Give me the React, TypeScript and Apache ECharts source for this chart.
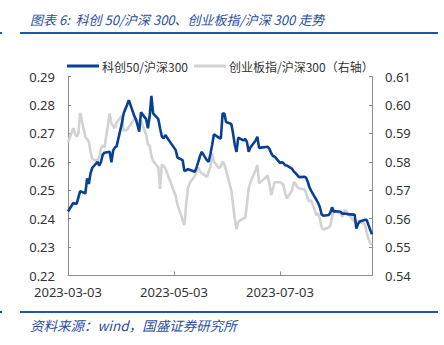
import React, { useEffect, useRef } from "react";
import * as echarts from "echarts";

// Trading days (2023), by month
const tradingDays: Record<string, number[]> = {
  "03": [3, 6, 7, 8, 9, 10, 13, 14, 15, 16, 17, 20, 21, 22, 23, 24, 27, 28, 29, 30, 31],
  "04": [3, 4, 6, 7, 10, 11, 12, 13, 14, 17, 18, 19, 20, 21, 24, 25, 26, 27, 28],
  "05": [4, 5, 8, 9, 10, 11, 12, 15, 16, 17, 18, 19, 22, 23, 24, 25, 26, 29, 30, 31],
  "06": [1, 2, 5, 6, 7, 8, 9, 12, 13, 14, 15, 16, 19, 20, 21, 26, 27, 28, 29, 30],
  "07": [3, 4, 5, 6, 7, 10, 11, 12, 13, 14, 17, 18, 19, 20, 21, 24, 25, 26, 27, 28, 31],
  "08": [1, 2, 3, 4, 7, 8, 9, 10, 11, 14, 15, 16, 17, 18, 21, 22, 23, 24, 25],
};

// 科创50/沪深300 (left axis)
const kechuang = [
  0.2425, 0.2455, 0.2453, 0.2453, 0.2475, 0.2497, 0.2489, 0.2542, 0.2522, 0.2560, 0.2579, 0.2600, 0.2586, 0.2600, 0.2625, 0.2632, 0.2635, 0.2598, 0.2640, 0.2650, 0.2655,
  0.2735, 0.2770, 0.2800, 0.2817, 0.2764, 0.2750, 0.2730, 0.2706, 0.2774, 0.2750, 0.2718, 0.2760, 0.2832, 0.2770, 0.2750, 0.2718, 0.2690, 0.2682, 0.2694,
  0.2641, 0.2615, 0.2606, 0.2567, 0.2570, 0.2574, 0.2572, 0.2565, 0.2580, 0.2600, 0.2620, 0.2635, 0.2605, 0.2600, 0.2628, 0.2660, 0.2697, 0.2684, 0.2682, 0.2770,
  0.2770, 0.2740, 0.2733, 0.2700, 0.2660, 0.2635, 0.2685, 0.2675, 0.2680, 0.2670, 0.2635, 0.2650, 0.2675, 0.2688, 0.2649, 0.2653, 0.2645, 0.2630, 0.2620, 0.2618,
  0.2596, 0.2598, 0.2596, 0.2588, 0.2587, 0.2575, 0.2566, 0.2560, 0.2553, 0.2546, 0.2547, 0.2545, 0.2530, 0.2510, 0.2498, 0.2466, 0.2455, 0.2440, 0.2415, 0.2410, 0.2413,
  0.2420, 0.2440, 0.2424, 0.2426, 0.2424, 0.2417, 0.2418, 0.2417, 0.2416, 0.2414, 0.2414, 0.2365, 0.2382, 0.2390, 0.2396, 0.2395, 0.2377, 0.2360, 0.2345,
];

// 创业板指/沪深300 (right axis)
const chuangye = [
  0.5868, 0.5918, 0.5900, 0.5888, 0.5900, 0.5972, 0.5888, 0.5880, 0.5870, 0.5835, 0.5810, 0.5803, 0.5820, 0.5847, 0.5858, 0.5850, 0.5970, 0.5935, 0.5925, 0.5918, 0.5938,
  0.5962, 0.5910, 0.5912, 0.5922, 0.5950, 0.5950, 0.5946, 0.5938, 0.5945, 0.5895, 0.5860, 0.5858, 0.5820, 0.5803, 0.5780, 0.5705, 0.5790, 0.5785, 0.5777,
  0.5680, 0.5650, 0.5595, 0.5577, 0.5648, 0.5706, 0.5725, 0.5750, 0.5765, 0.5780, 0.5765, 0.5759, 0.5747, 0.5765, 0.5782, 0.5829, 0.5800, 0.5777, 0.5785, 0.5800,
  0.5792, 0.5770, 0.5700, 0.5650, 0.5600, 0.5563, 0.5589, 0.5601, 0.5604, 0.5650, 0.5706, 0.5728, 0.5770, 0.5788, 0.5724, 0.5752, 0.5720, 0.5683, 0.5706, 0.5728,
  0.5728, 0.5725, 0.5718, 0.5690, 0.5671, 0.5700, 0.5728, 0.5722, 0.5712, 0.5706, 0.5703, 0.5693, 0.5670, 0.5660, 0.5665, 0.5612, 0.5618, 0.5600, 0.5570, 0.5562, 0.5569,
  0.5575, 0.5606, 0.5630, 0.5626, 0.5617, 0.5606, 0.5630, 0.5628, 0.5620, 0.5595, 0.5592, 0.5589, 0.5592, 0.5590, 0.5580, 0.5550, 0.5528, 0.5513, 0.5510,
];

const seriesNames = ["科创50/沪深300", "创业板指/沪深300（右轴）"];
const titleText = "图表 6:  科创 50/沪深 300、创业板指/沪深 300 走势";
const sourceText = "资料来源：wind，国盛证券研究所";
const startDate = "2023-03-03";
const endDate = "2023-08-25";
const labelStepDays = 61;

const DAY = 86400000;
const dates: string[] = [];
Object.keys(tradingDays).forEach((m) => {
  tradingDays[m].forEach((d) => dates.push(`2023-${m}-${String(d).padStart(2, "0")}`));
});
const t0 = Date.parse(startDate);
const toOffset = (d: string) => Math.round((Date.parse(d) - t0) / DAY);
const fmtOffset = (v: number) => {
  const dt = new Date(t0 + v * DAY);
  const y = dt.getUTCFullYear();
  const mo = String(dt.getUTCMonth() + 1).padStart(2, "0");
  const da = String(dt.getUTCDate()).padStart(2, "0");
  return `${y}-${mo}-${da}`;
};

export default function App() {
  const ref = useRef<HTMLDivElement>(null);
  useEffect(() => {
    document.body.style.margin = "0";
    if (!ref.current) return;
    const chart = echarts.init(ref.current, null, { renderer: "svg" });
    const blue = "#0A3F96";
    const gray = "#D2D2D2";
    const ruleColor = "#1F57A8";
    const textBlue = "#2A4E9E";
    const axisColor = "#8C8C8C";
    const labelColor = "#333333";
    chart.setOption({
      animation: false,
      backgroundColor: "#ffffff",
      grid: { left: 68, right: 72, top: 76.5, bottom: 69.5, containLabel: false },
      legend: {
        data: seriesNames,
        left: 62,
        top: 55,
        icon: "rect",
        itemWidth: 32,
        itemHeight: 3,
        itemGap: 6,
        textStyle: { fontFamily: "Noto Sans CJK SC", fontSize: 12, color: labelColor, padding: [0, 0, 0, -2] },
      },
      graphic: [
        {
          type: "text",
          left: 30,
          top: 13,
          style: {
            text: titleText,
            fontFamily: "Noto Sans CJK SC",
            fontSize: 13,
            fontStyle: "italic",
            fill: textBlue,
          },
        },
        { type: "rect", shape: { x: 20, y: 32, width: 418, height: 2 }, style: { fill: ruleColor } },
        { type: "rect", shape: { x: 0, y: 32, width: 2, height: 2 }, style: { fill: ruleColor } },
        { type: "rect", shape: { x: 20, y: 311, width: 418, height: 2 }, style: { fill: ruleColor } },
        { type: "rect", shape: { x: 0, y: 311, width: 2, height: 2 }, style: { fill: ruleColor } },
        {
          type: "text",
          left: 30,
          top: 318,
          style: {
            text: sourceText,
            fontFamily: "Noto Sans CJK SC",
            fontSize: 13.5,
            fontStyle: "italic",
            fill: textBlue,
          },
        },
      ],
      xAxis: {
        type: "value",
        min: 0,
        max: toOffset(endDate),
        interval: labelStepDays,
        axisLine: { show: true, lineStyle: { color: axisColor, width: 1 } },
        axisTick: { show: true, inside: true, length: 4, lineStyle: { color: axisColor } },
        splitLine: { show: false },
        axisLabel: {
          showMaxLabel: false,
          margin: 10,
          fontFamily: "Noto Sans",
          fontSize: 13,
          color: labelColor,
          formatter: (v: number) => (v % labelStepDays === 0 ? fmtOffset(v) : ""),
        },
      },
      yAxis: [
        {
          type: "value",
          min: 0.22,
          max: 0.29,
          interval: 0.01,
          position: "left",
          axisLine: { show: true, lineStyle: { color: axisColor, width: 1 } },
          axisTick: { show: true, inside: true, length: 3, lineStyle: { color: axisColor } },
          splitLine: { show: false },
          axisLabel: {
            margin: 13,
            fontFamily: "Noto Sans",
            fontSize: 13,
            color: labelColor,
            formatter: (v: number) => v.toFixed(2),
          },
        },
        {
          type: "value",
          min: 0.54,
          max: 0.61,
          interval: 0.01,
          position: "right",
          axisLine: { show: true, lineStyle: { color: axisColor, width: 1 } },
          axisTick: { show: true, inside: true, length: 3, lineStyle: { color: axisColor } },
          splitLine: { show: false },
          axisLabel: {
            margin: 13,
            fontFamily: "Noto Sans",
            fontSize: 13,
            color: labelColor,
            formatter: (v: number) => v.toFixed(2),
          },
        },
      ],
      series: [
        {
          name: seriesNames[0],
          type: "line",
          yAxisIndex: 0,
          symbol: "none",
          z: 3,
          lineStyle: { color: blue, width: 2.6 },
          itemStyle: { color: blue },
          data: dates.map((d, i) => [toOffset(d), kechuang[i]]),
        },
        {
          name: seriesNames[1],
          type: "line",
          yAxisIndex: 1,
          symbol: "none",
          z: 2,
          lineStyle: { color: gray, width: 2.6 },
          itemStyle: { color: gray },
          data: dates.map((d, i) => [toOffset(d), chuangye[i]]),
        },
      ],
    });
    return () => chart.dispose();
  }, []);
  return <div ref={ref} style={{ width: 444, height: 345 }} />;
}
